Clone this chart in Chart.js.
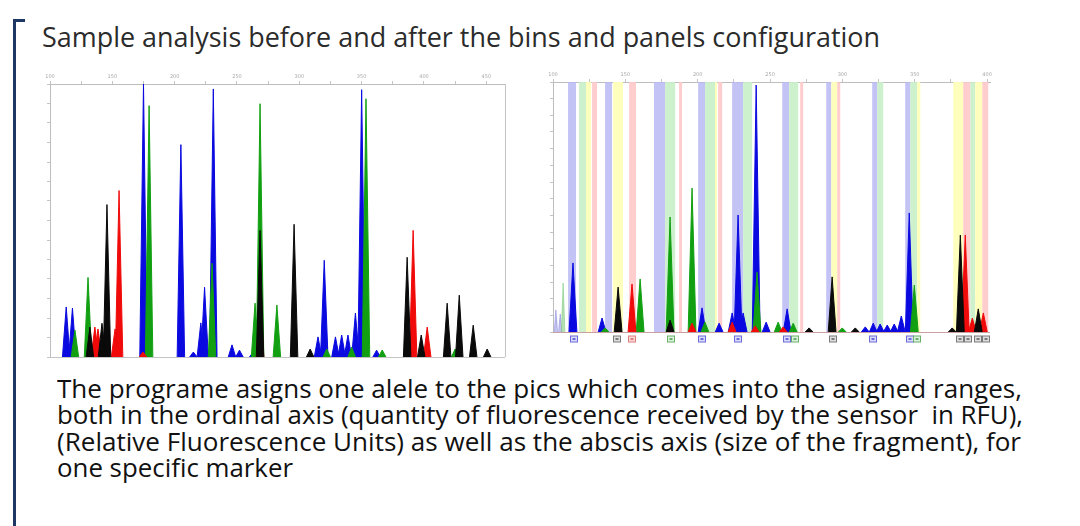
<!DOCTYPE html>
<html>
<head>
<meta charset="utf-8">
<script src="https://cdn.jsdelivr.net/npm/chart.js@4.4.1/dist/chart.umd.min.js"></script>
<style>
  body { margin: 0; width: 1080px; height: 526px; background: #fff; position: relative; overflow: hidden; }
  .txt { position: absolute; white-space: nowrap; font-family: "Open Sans", sans-serif; transform-origin: left top; }
  .bar { position: absolute; background: #1f3763; }
  canvas { position: absolute; }
</style>
</head>
<body>
<div class="bar" style="left:13px;top:19px;width:3px;height:507px"></div>
<div class="bar" style="left:13px;top:19px;width:12px;height:3px"></div>

<div class="txt" data-w="838" style="left:42px;top:22px;font-size:27px;line-height:30px;color:#2b2b2b">Sample analysis before and after the bins and panels configuration</div>

<canvas id="before" width="480" height="294" style="left:28px;top:66px;width:480px;height:294px"></canvas>
<canvas id="after" width="462" height="282" style="left:531px;top:64px;width:462px;height:282px"></canvas>

<div class="txt" data-w="965" style="left:57px;top:373px;font-size:25px;line-height:30px;color:#111">The programe asigns one alele to the pics which comes into the asigned ranges,</div>
<div class="txt" data-w="966" style="left:57px;top:399px;font-size:25px;line-height:30px;color:#111">both in the ordinal axis (quantity of fluorescence received by the sensor &nbsp;in RFU),</div>
<div class="txt" data-w="964" style="left:57px;top:426px;font-size:25px;line-height:30px;color:#111">(Relative Fluorescence Units) as well as the abscis axis (size of the fragment), for</div>
<div class="txt" data-w="236" style="left:57px;top:452px;font-size:25px;line-height:30px;color:#111">one specific marker</div>

<script>
// ---- data: peaks as [size (bp), height (RFU)] ----

// left panel, before bins/panels
const beforeBlue = [[113,1320],[118,1290],[175,7200],[205,5600],[215,130],[221,900],[224,1840],[231,7070],[246,320],[252,180],[263,130],[315,530],[320,2550],[329,530],[334,580],[339,580],[345,1160],[350,7050],[362,180]];
const beforeGreen = [[120,710],[130.5,2100],[179.5,6630],[230,2470],[264.5,1420],[268.5,6680],[282,1370],[322,210],[342,260],[353.5,6810],[366.5,185],[425,210]];
const beforeBlack = [[132,790],[141.7,890],[145.7,4020],[268.5,3340],[295.8,3500],[308.7,210],[386.5,2630],[397.8,580],[418.6,1420],[428.3,1630],[439.5,840],[450.7,210]];
const beforeRed = [[136,790],[138.5,740],[152.2,740],[155.4,4390],[174.6,130],[268.5,1600],[391.3,3340],[402.6,790]];

// right panel, after bins/panels
const afterBlue = [[113.8,2030],[133.9,410],[203,710],[214.8,260],[223.8,560],[227.9,3440],[231.4,560],[240.4,7260],[247.3,290],[261.8,680],[315.8,150],[321.3,260],[326.1,235],[331,205],[335.8,235],[340.7,470],[346.2,3500]];
const afterGreen = [[136,120],[160.2,1560],[180.9,3380],[196.1,4230],[205,290],[241,1760],[255.6,290],[266,260],[299.9,120],[349.7,1380]];
const afterBlack = [[145,1320],[180.9,350],[277,120],[292.9,1620],[308.9,120],[375.9,120],[381.5,2850],[393.9,680]];
const afterRed = [[154.6,1410],[196.1,260],[223.8,290],[239.7,180],[259.1,150],[384.9,2850],[389.8,410],[397.4,560]];
const afterPaleBlue = [[102,650],[105,530]];
const afterPaleGreen = [[107,1440]];

// bins: [from, to, dye]
const bins = [
  [110.4,115.9,'blue'],[118.0,122.8,'green'],[122.8,126.3,'yellow'],[127.0,130.4,'red'],
  [136.0,140.8,'blue'],[141.5,148.4,'yellow'],[152.6,157.4,'red'],
  [169.8,177.5,'blue'],[177.5,184.4,'green'],[187.1,189.2,'red'],
  [200.3,205.1,'blue'],[205.1,212.0,'green'],[212.0,213.4,'yellow'],[214.1,216.9,'red'],
  [223.8,231.4,'blue'],[231.4,237.6,'green'],
  [258.4,263.2,'blue'],[263.2,269.4,'green'],[270.8,272.9,'red'],
  [288.8,292.3,'blue'],[292.3,296.4,'yellow'],[296.4,298.5,'red'],
  [320.6,324.1,'blue'],[324.1,328.2,'green'],
  [343.4,346.9,'blue'],[346.9,351.7,'green'],[351.7,353.8,'yellow'],
  [376.6,383.5,'yellow'],[383.5,388.4,'red'],[388.4,391.8,'green'],[391.8,396.7,'yellow'],[396.7,400.8,'red']
];

// allele call boxes under the right panel: [size, dye]
const alleleCalls = [[114.5,'blue'],[144.3,'black'],[154.6,'red'],[181.6,'green'],[203,'blue'],[227.9,'blue'],
  [261.8,'blue'],[267.4,'green'],[293.6,'black'],[321.3,'blue'],[346.9,'blue'],[351.7,'green'],
  [381.5,'black'],[387,'black'],[394,'black'],[399,'black']];

// ---- styles ----
const dyeColor = { blue: '#0a0ae0', green: '#12a012', black: '#0a0a0a', red: '#f00a0a' };
const binColor = { blue: 'rgba(185,185,245,0.85)', green: 'rgba(200,240,200,0.9)', yellow: 'rgba(255,255,185,0.95)', red: 'rgba(255,200,200,0.9)' };
const boxColor = { blue: ['#6a6ad8', '#dcdcfa'], green: ['#6ab06a', '#dcf2dc'], black: ['#7a7a7a', '#dedede'], red: ['#e07a7a', '#fbdada'] };

// fit the text lines to their measured widths
document.querySelectorAll('.txt').forEach(el => {
  const w = el.getBoundingClientRect().width;
  el.style.transform = `scaleX(${el.dataset.w / w})`;
});

// turn peaks into triangle points along the baseline
function peakPoints(peaks, halfWidth) {
  const pts = [];
  peaks.slice().sort((a, b) => a[0] - b[0]).forEach(([x, y]) => {
    pts.push({ x: x - halfWidth, y: 0 }, { x: x, y: y }, { x: x + halfWidth, y: 0 });
  });
  return pts;
}

function dyeDataset(peaks, color, halfWidth) {
  return {
    data: peakPoints(peaks, halfWidth),
    borderColor: color,
    backgroundColor: color,
    borderWidth: 1,
    fill: 'origin',
    pointRadius: 0,
    tension: 0,
    segment: {
      borderColor: ctx => (ctx.p0.parsed.y === 0 && ctx.p1.parsed.y === 0) ? 'rgba(0,0,0,0)' : undefined
    }
  };
}

// coloured bin bands behind the traces
const binsPlugin = {
  id: 'bins',
  beforeDatasetsDraw(chart, args, opts) {
    if (!opts.ranges) return;
    const { ctx, chartArea: a, scales: { x } } = chart;
    ctx.save();
    opts.ranges.forEach(([from, to, dye]) => {
      const x0 = x.getPixelForValue(from), x1 = x.getPixelForValue(to);
      ctx.fillStyle = binColor[dye];
      ctx.fillRect(x0, a.top, x1 - x0, a.bottom - a.top);
    });
    ctx.restore();
  },
  afterDraw(chart, args, opts) {
    const { ctx, chartArea: a, scales: { x } } = chart;
    ctx.save();
    ctx.strokeStyle = opts.frameColor || '#c4c4c4';
    ctx.lineWidth = 1;
    (opts.edges || []).forEach(e => {
      ctx.beginPath();
      if (e === 'right') { ctx.moveTo(a.right + 0.5, a.top); ctx.lineTo(a.right + 0.5, a.bottom); }
      if (e === 'bottom') { ctx.moveTo(a.left, a.bottom + 0.5); ctx.lineTo(a.right, a.bottom + 0.5); }
      ctx.stroke();
    });
    // allele call boxes
    (opts.calls || []).forEach(([v, dye]) => {
      const px = Math.round(x.getPixelForValue(v));
      ctx.fillStyle = boxColor[dye][1];
      ctx.strokeStyle = boxColor[dye][0];
      ctx.fillRect(px - 3.5, a.bottom + 4, 7, 6);
      ctx.strokeRect(px - 3.5, a.bottom + 4, 7, 6);
      ctx.fillStyle = boxColor[dye][0];
      ctx.fillRect(px - 1.5, a.bottom + 6, 3, 2);
    });
    ctx.restore();
  }
};

function axes(xMin, xMax, yMax, yLabelStep) {
  const tickFont = { size: 5, family: 'DejaVu Sans' };
  return {
    x: {
      type: 'linear', position: 'top', min: xMin, max: xMax,
      afterFit: s => { s.height = 18; s.paddingLeft = 0; s.paddingRight = 0; },
      ticks: { stepSize: 25, includeBounds: false, autoSkip: false, maxRotation: 0, padding: 1,
        color: '#a8a8a8', font: tickFont, callback: v => (v % 50 === 0 ? v : '') },
      grid: { drawOnChartArea: false, tickLength: 3, color: '#c4c4c4' },
      border: { color: '#bdbdbd' }
    },
    y: {
      min: 0, max: yMax,
      afterFit: s => { s.width = 22; s.paddingTop = 0; s.paddingBottom = 0; },
      ticks: { stepSize: 500, includeBounds: false, autoSkip: false, padding: 1,
        color: '#a8a8a8', font: tickFont, callback: v => (v > 0 && v % yLabelStep === 0 ? v : '') },
      grid: { drawOnChartArea: false, tickLength: 3, color: '#c4c4c4' },
      border: { color: '#bdbdbd' }
    }
  };
}

const common = {
  responsive: false,
  animation: false,
  parsing: false,
  events: [],
  plugins: { legend: { display: false }, tooltip: { enabled: false } }
};

// before: raw trace, no bins
new Chart(document.getElementById('before'), {
  type: 'line',
  data: {
    datasets: [
      dyeDataset(beforeBlack, dyeColor.black, 3),
      dyeDataset(beforeRed, dyeColor.red, 3),
      dyeDataset(beforeGreen, dyeColor.green, 3),
      dyeDataset(beforeBlue, dyeColor.blue, 3)
    ]
  },
  options: Object.assign({}, common, {
    layout: { padding: { top: 0, left: 0, right: 3, bottom: 3 } },
    scales: axes(100, 465, 7200, 1000),
    plugins: Object.assign({}, common.plugins, { bins: { edges: ['right', 'bottom'] } })
  }),
  plugins: [binsPlugin]
});

// after: same kind of trace with bins and allele calls
new Chart(document.getElementById('after'), {
  type: 'line',
  data: {
    datasets: [
      dyeDataset(afterBlack, dyeColor.black, 2.7),
      dyeDataset(afterRed, dyeColor.red, 2.7),
      dyeDataset(afterGreen, dyeColor.green, 2.7),
      dyeDataset(afterBlue, dyeColor.blue, 2.7),
      dyeDataset(afterPaleGreen, 'rgba(120,200,120,0.55)', 1.2),
      dyeDataset(afterPaleBlue, 'rgba(120,120,220,0.45)', 1.2)
    ]
  },
  options: Object.assign({}, common, {
    layout: { padding: { top: 0, left: 0, right: 3, bottom: 14 } },
    scales: axes(100, 402, 7350, 500),
    plugins: Object.assign({}, common.plugins, {
      bins: { ranges: bins, calls: alleleCalls, edges: ['bottom'], frameColor: '#c9a0a0' }
    })
  }),
  plugins: [binsPlugin]
});
</script>
</body>
</html>
